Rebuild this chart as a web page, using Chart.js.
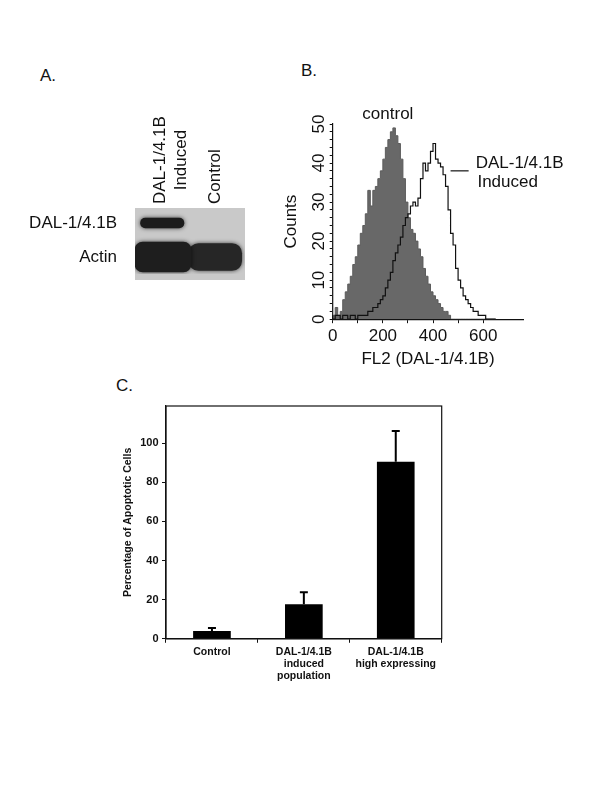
<!DOCTYPE html>
<html>
<head>
<meta charset="utf-8">
<script src="https://cdn.jsdelivr.net/npm/chart.js@4.4.0/dist/chart.umd.min.js"></script>
<style>
  body { margin: 0; background: #fff; width: 600px; height: 800px; position: relative; font-family: "Liberation Sans", Arial, Helvetica, sans-serif; }
  .panel-label { position: absolute; font-size: 17px; line-height: 1; color: #111; }
  .box { position: absolute; }
</style>
</head>
<body>
<div class="panel-label" style="left:40px;top:67px">A.</div>
<div class="panel-label" style="left:301px;top:62px">B.</div>
<div class="panel-label" style="left:116px;top:377px">C.</div>
<div class="box" style="left:0;top:100px;width:270px;height:200px"><canvas id="blotChart"></canvas></div>
<div class="box" style="left:270px;top:100px;width:330px;height:270px"><canvas id="histChart"></canvas></div>
<div class="box" style="left:90px;top:395px;width:370px;height:295px"><canvas id="barChart"></canvas></div>
<script>
// A. western blot: bands (rows) and lanes; spans are in lane units
const blotBands = ['DAL-1/4.1B', 'Actin'];
const blotLanes = [['DAL-1/4.1B', 'Induced'], ['Control']];
const dalBand = [[0.1, 0.89], null];
const actinInduced = [null, [0, 1.02]];
const actinControl = [null, [0.98, 1.94]];

// B. FL2 histogram
const fl2Bins = [0, 10, 20, 30, 40, 50, 60, 70, 80, 90, 100, 110, 120, 130, 140, 150, 160, 170, 180, 190,
  200, 210, 220, 230, 240, 250, 260, 270, 280, 290, 300, 310, 320, 330, 340, 350, 360, 370, 380, 390,
  400, 410, 420, 430, 440, 450, 460, 470, 480, 490, 500, 510, 520, 530, 540, 550, 560, 570, 580, 590,
  600, 610, 620, 630, 640, 650];
const controlCounts = [33, 1, 3, 1, 2, 5, 7, 9, 11, 14, 16, 19, 22, 24, 27, 33, 29, 33, 34, 36,
  38, 41, 44, 46, 48, 49, 47, 45, 41, 36, 30, 26, 23, 22, 20, 18, 16, 13, 11, 9,
  7, 6, 5, 4, 3, 2, 2, 1, 0, 0, 0, 0, 0, 0, 0, 0, 0, 0, 0, 0,
  0, 0, 0, 0, 0, 0];
const inducedCounts = [1, 0, 1, 1, 0, 1, 1, 0, 1, 1, 0, 1, 1, 1, 1, 2, 2, 3, 3, 4,
  5, 6, 8, 10, 12, 15, 17, 19, 21, 24, 26, 27, 29, 30, 29, 31, 36, 40, 38, 40,
  43, 45, 41, 40, 39, 37, 34, 28, 22, 19, 13, 10, 8, 6, 5, 4, 3, 2, 2, 1,
  1, 1, 0, 0, 0, 0];

// C. apoptosis
const groups = ['Control', ['DAL-1/4.1B', 'induced', 'population'], ['DAL-1/4.1B', 'high expressing']];
const apoptoticPct = [4, 17.6, 90.5];
const apoptoticErr = [1.5, 6.2, 15.7];
const pctTicks = [0, 20, 40, 60, 80, 100];

const FONT = '"Liberation Sans", Arial, Helvetica, sans-serif';
Chart.defaults.font.family = FONT;
Chart.defaults.color = '#111';

const blotPlugin = {
    id: 'blot',
    beforeDatasetsDraw(chart) {
        const { ctx, chartArea: a } = chart;
        ctx.save();
        ctx.fillStyle = '#c9c9c9';
        ctx.fillRect(a.left, a.top + 2, a.right - a.left, a.bottom - a.top + 4);
        ctx.shadowColor = 'rgba(0,0,0,0.7)';
        ctx.shadowBlur = 4;
    },
    afterDatasetsDraw(chart) {
        chart.ctx.restore();
    },
    afterDraw(chart) {
        const { ctx, scales: { x }, chartArea: a } = chart;
        ctx.save();
        ctx.font = '17px ' + FONT;
        ctx.fillStyle = '#111';
        ctx.textAlign = 'center';
        ctx.textBaseline = 'middle';
        blotLanes.forEach((lines, i) => {
            const cx = x.getPixelForValue(i + 0.5) - 2;
            const w = Math.max(...lines.map(l => ctx.measureText(l).width));
            const cy = a.top - 2 - w / 2;
            lines.forEach((l, j) => {
                ctx.save();
                ctx.translate(cx + j * 20.4, cy);
                ctx.rotate(-Math.PI / 2);
                ctx.fillText(l, 0, 0);
                ctx.restore();
            });
        });
        ctx.restore();
    }
};

new Chart(document.getElementById('blotChart'), {
    type: 'bar',
    data: {
        labels: blotBands,
        datasets: [
            { data: dalBand, grouped: false, barThickness: 10, backgroundColor: '#1b1b1b', borderRadius: 5, borderSkipped: false },
            { data: actinInduced, grouped: false, barThickness: 30, backgroundColor: '#1e1e1e', borderRadius: 8, borderSkipped: false },
            { data: actinControl, grouped: false, barThickness: 27, backgroundColor: '#262626', borderRadius: 10, borderSkipped: false }
        ]
    },
    options: {
        indexAxis: 'y',
        responsive: true,
        maintainAspectRatio: false,
        animation: false,
        layout: { padding: { top: 106, right: 25, bottom: 26, left: 0 } },
        plugins: { legend: { display: false }, tooltip: { enabled: false } },
        scales: {
            x: { type: 'linear', min: 0, max: 2, display: false },
            y: {
                grid: { display: false },
                border: { display: false },
                ticks: { color: '#111', padding: 10, font: { size: 17 } },
                afterFit: s => { s.width = 135; }
            }
        }
    },
    plugins: [blotPlugin]
});

const histNotes = {
    id: 'histNotes',
    afterDraw(chart) {
        const { ctx, scales: { x, y } } = chart;
        ctx.save();
        ctx.font = '17px ' + FONT;
        ctx.fillStyle = '#111';
        ctx.textAlign = 'center';
        ctx.textBaseline = 'middle';
        ctx.fillText('control', x.getPixelForValue(220), y.getPixelForValue(52.6));
        ctx.strokeStyle = '#111';
        ctx.lineWidth = 1.2;
        ctx.beginPath();
        ctx.moveTo(x.getPixelForValue(470), y.getPixelForValue(38));
        ctx.lineTo(x.getPixelForValue(542), y.getPixelForValue(38));
        ctx.stroke();
        ctx.textAlign = 'left';
        ctx.fillText('DAL-1/4.1B', x.getPixelForValue(570), y.getPixelForValue(40));
        ctx.fillText('Induced', x.getPixelForValue(577), y.getPixelForValue(35.1));
        ctx.restore();
    }
};

new Chart(document.getElementById('histChart'), {
    type: 'line',
    data: {
        datasets: [
            {
                label: 'DAL-1/4.1B Induced',
                data: fl2Bins.map((v, i) => ({ x: v, y: inducedCounts[i] })),
                stepped: 'after',
                borderColor: '#111',
                borderWidth: 1.2,
                pointRadius: 0,
                fill: false,
                order: 0
            },
            {
                label: 'control',
                data: fl2Bins.map((v, i) => ({ x: v, y: controlCounts[i] })),
                stepped: 'after',
                borderColor: '#5c5c5c',
                backgroundColor: '#686868',
                borderWidth: 1,
                pointRadius: 0,
                fill: 'origin',
                order: 1
            }
        ]
    },
    options: {
        responsive: true,
        maintainAspectRatio: false,
        animation: false,
        layout: { padding: { top: 24, right: 76.7, bottom: 0, left: 0 } },
        plugins: { legend: { display: false }, tooltip: { enabled: false } },
        scales: {
            x: {
                type: 'linear',
                min: 0,
                max: 760,
                afterBuildTicks: s => { s.ticks = s.ticks.filter(t => t.value % 100 === 0); },
                grid: { drawOnChartArea: false, tickLength: 4, color: '#111' },
                border: { color: '#111', width: 1.2 },
                ticks: {
                    stepSize: 100, autoSkip: false, maxRotation: 0, padding: 3,
                    color: '#111', font: { size: 17 },
                    callback: v => (v % 200 === 0 ? v : '')
                },
                title: { display: true, text: 'FL2 (DAL-1/4.1B)', color: '#111', font: { size: 17 }, padding: 0 }
            },
            y: {
                min: 0,
                max: 50,
                grid: { drawOnChartArea: false, tickLength: 3, color: '#111' },
                border: { color: '#111', width: 1.2 },
                ticks: {
                    stepSize: 2, autoSkip: false, minRotation: 90, maxRotation: 90,
                    crossAlign: 'center', padding: 1, color: '#111', font: { size: 17 },
                    callback: v => (v % 10 === 0 ? v : '')
                },
                title: { display: true, text: 'Counts', color: '#111', font: { size: 17 }, padding: { top: 11, bottom: 0 } },
                afterFit: s => { s.width = 62.7; }
            }
        }
    },
    plugins: [histNotes]
});

const errorBars = {
    id: 'errorBars',
    afterDatasetsDraw(chart) {
        const { ctx, scales: { y } } = chart;
        const meta = chart.getDatasetMeta(0);
        ctx.save();
        ctx.strokeStyle = '#000';
        ctx.lineWidth = 2;
        meta.data.forEach((bar, i) => {
            const top = y.getPixelForValue(apoptoticPct[i] + apoptoticErr[i]);
            ctx.beginPath();
            ctx.moveTo(bar.x, bar.y);
            ctx.lineTo(bar.x, top);
            ctx.moveTo(bar.x - 4, top);
            ctx.lineTo(bar.x + 4, top);
            ctx.stroke();
        });
        ctx.restore();
    }
};

const frame = {
    id: 'frame',
    afterDraw(chart) {
        const { ctx, chartArea: a } = chart;
        ctx.save();
        ctx.strokeStyle = '#111';
        ctx.lineWidth = 1.2;
        ctx.strokeRect(a.left, a.top, a.right - a.left, a.bottom - a.top);
        ctx.restore();
    }
};

new Chart(document.getElementById('barChart'), {
    type: 'bar',
    data: {
        labels: groups,
        datasets: [{
            label: 'Percentage of Apoptotic Cells',
            data: apoptoticPct,
            backgroundColor: '#000',
            barPercentage: 0.41,
            categoryPercentage: 1
        }]
    },
    options: {
        responsive: true,
        maintainAspectRatio: false,
        animation: false,
        layout: { padding: { top: 11, right: 18.3, bottom: 5, left: 0 } },
        plugins: { legend: { display: false }, tooltip: { enabled: false } },
        scales: {
            x: {
                grid: { offset: true, drawOnChartArea: false, tickLength: 4, color: '#111' },
                border: { color: '#111', width: 1.2 },
                ticks: { color: '#111', padding: 3, maxRotation: 0, autoSkip: false, font: { size: 10.5, weight: 'bold', lineHeight: 1.15 } }
            },
            y: {
                min: 0,
                max: 119,
                afterBuildTicks: s => { s.ticks = pctTicks.map(v => ({ value: v })); },
                grid: { drawOnChartArea: false, tickLength: 4, color: '#111' },
                border: { color: '#111', width: 1.2 },
                ticks: { color: '#111', padding: 3.5, font: { size: 11, weight: 'bold' } },
                title: { display: true, text: 'Percentage of Apoptotic Cells', color: '#111', font: { size: 10.5, weight: 'bold' }, padding: { top: 32, bottom: 0 } },
                afterFit: s => { s.width = 76; }
            }
        }
    },
    plugins: [errorBars, frame]
});
</script>
</body>
</html>
